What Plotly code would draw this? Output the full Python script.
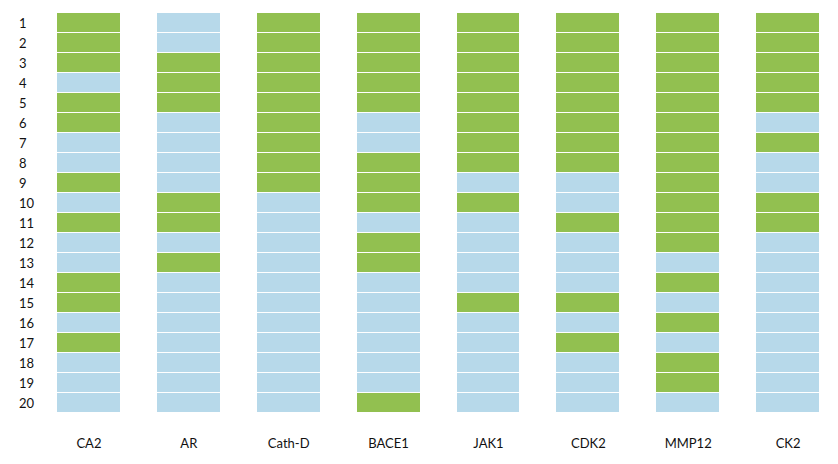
import plotly.graph_objects as go

targets = ["CA2", "AR", "Cath-D", "BACE1", "JAK1", "CDK2", "MMP12", "CK2"]
rows = list(range(1, 21))

# 1 = green (hit), 0 = light blue
CA2    = [1,1,1,0,1,1,0,0,1,0,1,0,0,1,1,0,1,0,0,0]
AR     = [0,0,1,1,1,0,0,0,0,1,1,0,1,0,0,0,0,0,0,0]
CathD  = [1,1,1,1,1,1,1,1,1,0,0,0,0,0,0,0,0,0,0,0]
BACE1  = [1,1,1,1,1,0,0,1,1,1,0,1,1,0,0,0,0,0,0,1]
JAK1   = [1,1,1,1,1,1,1,1,0,1,0,0,0,0,1,0,0,0,0,0]
CDK2   = [1,1,1,1,1,1,1,1,0,0,1,0,0,0,1,0,1,0,0,0]
MMP12  = [1,1,1,1,1,1,1,1,1,1,1,1,0,1,0,1,0,1,1,0]
CK2    = [1,1,1,1,1,0,1,0,0,1,1,0,0,0,0,0,0,0,0,0]

columns = [CA2, AR, CathD, BACE1, JAK1, CDK2, MMP12, CK2]
z = [[col[r] for col in columns] for r in range(len(rows))]

GREEN = "#92C050"
BLUE = "#B7D9EA"
TXT = "#111111"
FONT = "Lato"

fig = go.Figure(go.Heatmap(
    x=targets,
    y=rows,
    z=z,
    zmin=0, zmax=1,
    colorscale=[[0, BLUE], [0.5, BLUE], [0.5, GREEN], [1, GREEN]],
    showscale=False,
    xgap=37,
    ygap=1,
    hoverinfo="skip",
))

for r in rows:
    fig.add_annotation(
        x=-0.0275, xref="paper", xanchor="left",
        y=r, yref="y", yanchor="middle",
        text=str(r), showarrow=False,
        font=dict(family=FONT, size=13, color=TXT),
    )

fig.update_layout(
    width=830, height=456,
    margin=dict(l=31, r=0, t=5, b=51),
    paper_bgcolor="white",
    plot_bgcolor="white",
    font=dict(family=FONT, size=13, color=TXT),
    xaxis=dict(
        showgrid=False, zeroline=False, showline=False, ticks="",
        ticklabelstandoff=21,
        tickfont=dict(family=FONT, size=13, color=TXT),
    ),
    yaxis=dict(
        showgrid=False, zeroline=False, showline=False, ticks="",
        showticklabels=False,
        range=[20.5, 0.5],
    ),
)

fig.write_html("out.html")
